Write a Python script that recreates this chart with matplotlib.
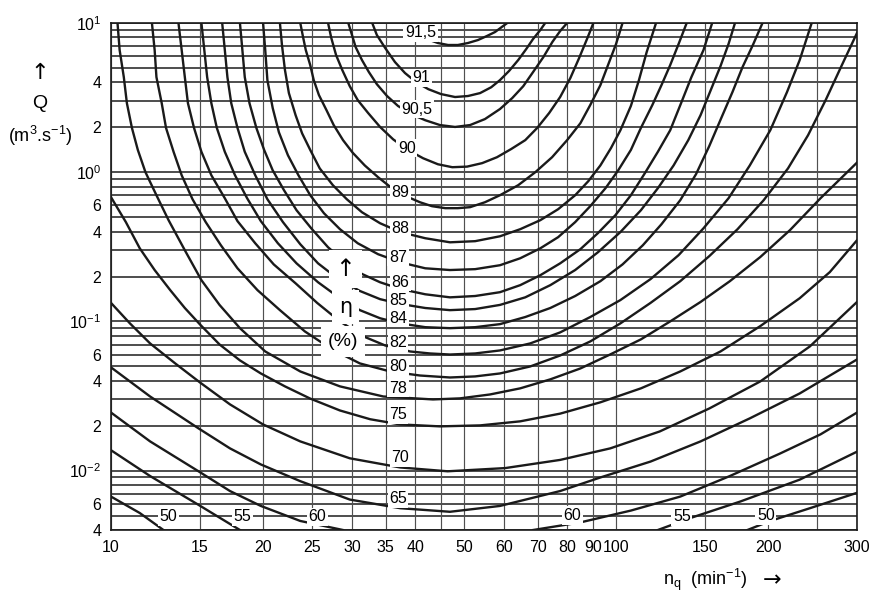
import matplotlib
matplotlib.use('Agg')
import matplotlib.pyplot as plt

plt.rcParams['font.family'] = ['Liberation Sans', 'DejaVu Sans']
plt.rcParams['mathtext.fontset'] = 'custom'
plt.rcParams['mathtext.rm'] = 'Liberation Sans'
plt.rcParams['mathtext.it'] = 'Liberation Sans'

# iso-efficiency lines: nq in 1/min, Q in m3/s
c915_nq = [37.9, 39.3, 40.9, 42.7, 44.4, 46.5, 48.6, 50.9, 53.3, 55.5, 57.6, 59.4, 60.9]
c915_q = [10, 9.12, 8.31, 7.69, 7.34, 7.12, 7.12, 7.34, 7.69, 8.18, 8.70, 9.40, 10]

c91_nq = [32.9, 33.6, 34.9, 36.5, 38.2, 40.2, 42.5, 45.0, 48.0, 50.9, 53.8, 56.6, 58.9,
          61.4, 64.0, 66.4, 68.5, 70.8, 72.4]
c91_q = [10, 8.31, 6.80, 5.47, 4.62, 4.01, 3.60, 3.34, 3.19, 3.24, 3.39, 3.71, 4.14,
         4.77, 5.64, 6.69, 7.81, 8.97, 10]

c905_nq = [29.5, 30.0, 30.5, 31.4, 32.4, 33.6, 35.2, 37.0, 39.3, 41.9, 44.8, 48.0, 51.4,
           55.0, 58.9, 62.3, 65.5, 68.5, 71.8, 74.8, 77.5, 80.0]
c905_q = [10, 8.31, 6.90, 5.64, 4.69, 3.89, 3.24, 2.78, 2.45, 2.23, 2.07, 2.01, 2.07,
          2.27, 2.65, 3.14, 3.77, 4.69, 5.91, 7.46, 8.83, 10]

c90_nq = [26.9, 27.3, 27.9, 28.7, 29.7, 30.8, 32.3, 34.1, 36.2, 38.7, 41.5, 44.4, 47.4,
          50.7, 54.3, 58.1, 62.0, 66.1, 69.8, 73.7, 77.5, 81.2, 84.5, 87.6, 90.2]
c90_q = [10, 7.93, 6.10, 4.84, 3.77, 3.04, 2.49, 2.01, 1.66, 1.41, 1.24, 1.13, 1.08,
         1.09, 1.15, 1.26, 1.43, 1.64, 1.98, 2.49, 3.19, 4.28, 5.82, 7.81, 10]

c89_nq = [23.7, 24.0, 24.3, 24.8, 25.2, 25.8, 26.7, 27.6, 28.8, 30.1, 31.8, 33.8, 36.0,
          38.4, 40.9, 43.2, 45.9, 48.6, 51.4, 55.0, 58.9, 64.0, 69.2, 74.7, 80.0, 85.0,
          88.9, 93.1, 96.4, 100, 103]
c89_q = [10, 8.06, 6.59, 5.22, 4.14, 3.29, 2.61, 2.07, 1.64, 1.35, 1.11, 0.925, 0.781,
         0.690, 0.629, 0.592, 0.574, 0.574, 0.583, 0.629, 0.701, 0.818, 1.0, 1.26, 1.64,
         2.13, 2.82, 3.83, 5.22, 7.23, 10]

c88_nq = [21.6, 21.8, 22.1, 22.5, 23.2, 23.9, 24.8, 25.9, 27.5, 29.3, 31.4, 34.1, 37.4,
          41.9, 46.9, 52.6, 58.9, 64.6, 70.8, 76.8, 83.0, 88.1, 93.1, 97.7, 102, 107,
          111, 115, 120]
c88_q = [10, 7.12, 4.84, 3.39, 2.41, 1.82, 1.41, 1.06, 0.818, 0.659, 0.539, 0.455, 0.397,
         0.361, 0.339, 0.345, 0.372, 0.415, 0.477, 0.565, 0.701, 0.870, 1.11, 1.45, 1.91,
         2.78, 4.14, 6.39, 10]

c87_nq = [20.0, 20.2, 20.4, 20.9, 21.5, 22.4, 23.5, 24.8, 26.4, 28.4, 30.8, 33.8, 37.4,
          41.9, 46.9, 52.6, 58.9, 64.6, 70.8, 76.8, 83.0, 88.9, 95.3, 101, 107, 112,
          118, 123, 128, 133, 138]
c87_q = [10, 6.59, 4.14, 2.69, 1.85, 1.30, 0.954, 0.701, 0.531, 0.415, 0.334, 0.282,
         0.249, 0.227, 0.221, 0.224, 0.238, 0.265, 0.309, 0.367, 0.463, 0.592, 0.781,
         1.03, 1.41, 1.98, 2.82, 3.83, 5.22, 7.23, 10]

c86_nq = [18.0, 18.2, 18.4, 18.8, 19.4, 20.1, 20.9, 22.0, 23.3, 25.0, 26.9, 29.1, 31.4,
          34.1, 37.4, 41.9, 46.9, 52.6, 58.9, 64.6, 70.8, 77.5, 85.0, 92.1, 99.7, 107,
          114, 121, 128, 134.5, 141, 149, 155]
c86_q = [10, 6.59, 4.34, 2.90, 1.98, 1.41, 1.03, 0.758, 0.556, 0.415, 0.314, 0.249, 0.208,
         0.183, 0.165, 0.152, 0.145, 0.148, 0.157, 0.175, 0.204, 0.245, 0.305, 0.391,
         0.515, 0.701, 0.983, 1.37, 1.91, 2.90, 4.34, 6.59, 10]

c85_nq = [16.6, 16.8, 17.0, 17.3, 17.8, 18.4, 19.3, 20.4, 21.9, 23.7, 25.7, 28.2, 31.1,
          34.1, 37.4, 41.9, 46.9, 52.6, 58.9, 66.1, 74.1, 83.0, 92.1, 102, 112, 121, 130,
          139, 147, 154, 161, 167, 172]
c85_q = [10, 6.59, 4.34, 2.90, 1.98, 1.37, 0.954, 0.659, 0.463, 0.329, 0.245, 0.192, 0.160,
         0.141, 0.131, 0.123, 0.119, 0.121, 0.129, 0.145, 0.175, 0.221, 0.291, 0.397,
         0.556, 0.781, 1.11, 1.64, 2.41, 3.55, 5.14, 7.23, 10]

c84_nq = [15.1, 15.3, 15.5, 15.8, 16.2, 16.8, 17.6, 18.6, 19.8, 21.4, 23.3, 25.7, 28.4,
          31.1, 34.1, 37.4, 41.9, 46.9, 52.6, 58.9, 66.1, 74.1, 83.0, 93.1, 103, 113, 123,
          134, 144, 153, 161.5, 170, 178, 187, 195]
c84_q = [10, 6.59, 4.34, 2.90, 1.98, 1.37, 0.954, 0.669, 0.470, 0.334, 0.245, 0.183, 0.143,
         0.119, 0.105, 0.097, 0.0915, 0.0901, 0.0915, 0.0959, 0.107, 0.123, 0.148, 0.186,
         0.241, 0.324, 0.448, 0.649, 0.970, 1.50, 2.30, 3.44, 5.06, 7.23, 10]

c82_nq = [13.6, 13.8, 14.0, 14.2, 14.6, 15.1, 15.8, 16.8, 17.8, 19.3, 21.0, 23.2, 25.6,
          28.4, 31.6, 34.9, 39.1, 42.8, 46.9, 52.6, 58.9, 67.6, 77.5, 88.9, 102, 117, 133,
          149, 167, 184, 202, 218, 231, 244]
c82_q = [10, 6.59, 4.34, 2.90, 1.98, 1.37, 0.954, 0.669, 0.470, 0.334, 0.241, 0.180, 0.133,
         0.100, 0.0794, 0.0690, 0.0629, 0.0610, 0.0600, 0.0610, 0.0639, 0.0712, 0.0844,
         0.107, 0.139, 0.192, 0.278, 0.421, 0.669, 1.11, 1.91, 3.44, 5.64, 10]

c80_nq = [12.05, 12.2, 12.3, 12.6, 12.85, 13.3, 13.8, 14.5, 15.4, 16.5, 17.8, 19.5, 21.6,
          24.2, 27.4, 31.1, 35.7, 40.9, 46.9, 52.6, 58.9, 67.6, 77.5, 88.9, 102, 117, 134,
          153, 174, 196, 219, 240, 260, 280, 300]
c80_q = [10, 6.59, 4.34, 2.90, 1.98, 1.37, 0.954, 0.659, 0.463, 0.324, 0.227, 0.162, 0.119,
         0.0857, 0.0649, 0.0523, 0.0462, 0.0434, 0.0421, 0.0428, 0.0448, 0.0499, 0.0591,
         0.0734, 0.0970, 0.133, 0.186, 0.274, 0.415, 0.649, 1.06, 1.77, 3.04, 5.22, 8.57]

c78_nq = [10.3, 10.4, 10.6, 10.75, 11.0, 11.3, 11.7, 12.3, 13.0, 14.0, 15.1, 16.4, 18.0,
          20.2, 23.7, 28.4, 34.6, 43.4, 49.1, 56.3, 64.6, 74.1, 85.0, 97.4, 112, 128, 147,
          168, 193, 221, 254, 300]
c78_q = [10, 6.59, 4.34, 2.90, 1.98, 1.41, 1.0, 0.701, 0.477, 0.300, 0.189, 0.129, 0.0901,
         0.0629, 0.0462, 0.0367, 0.0314, 0.0300, 0.0305, 0.0324, 0.0356, 0.0409, 0.0484,
         0.0601, 0.0758, 0.100, 0.135, 0.186, 0.270, 0.409, 0.669, 1.16]

c75_nq = [10.0, 10.7, 11.4, 12.2, 13.1, 14.0, 15.0, 16.4, 18.0, 19.8, 22.1, 24.8, 28.4,
          32.6, 37.4, 44.8, 53.8, 64.6, 77.5, 93.1, 112, 134, 161, 193, 231, 265, 300]
c75_q = [0.680, 0.463, 0.309, 0.221, 0.162, 0.123, 0.0955, 0.0701, 0.0548, 0.0448, 0.0367,
         0.0304, 0.0253, 0.0221, 0.0204, 0.0198, 0.0201, 0.0214, 0.0241, 0.0287, 0.0356,
         0.0462, 0.0629, 0.0930, 0.143, 0.214, 0.350]

c70_nq = [10.0, 10.9, 11.95, 13.4, 15.0, 17.2, 20.0, 23.7, 29.7, 37.4, 46.4, 60.3, 77.5,
          97.4, 122, 153, 193, 242, 300]
c70_q = [0.133, 0.097, 0.0712, 0.0523, 0.0390, 0.0278, 0.0204, 0.0157, 0.0121, 0.0105,
         0.0099, 0.0104, 0.0118, 0.0141, 0.0183, 0.0261, 0.0396, 0.0680, 0.135]

c65_nq = [10.0, 11.95, 14.9, 17.2, 19.8, 23.7, 29.7, 37.4, 46.9, 58.9, 77.5, 93.1, 117,
          147, 184, 231, 300]
c65_q = [0.0492, 0.0314, 0.0192, 0.0141, 0.0110, 0.0085, 0.0064, 0.0056, 0.0053, 0.0058,
         0.0073, 0.0090, 0.0115, 0.0157, 0.0224, 0.0329, 0.0556]

c60_nq = [10.0, 11.95, 14.9, 17.2, 19.8, 23.7, 28.8, 68.5, 85.0, 107, 134, 168, 211, 254, 300]
c60_q = [0.0245, 0.0157, 0.0099, 0.0073, 0.0058, 0.0046, 0.004, 0.004, 0.0045, 0.0054,
         0.0067, 0.0092, 0.0130, 0.0175, 0.0245]

c55_nq = [10.0, 11.95, 14.9, 18.0, 121, 140, 176, 231, 300]
c55_q = [0.0137, 0.0092, 0.0059, 0.004, 0.004, 0.0048, 0.0062, 0.0087, 0.0134]

c50_nq = [10.0, 11.4, 12.7, 182, 202, 242, 300]
c50_q = [0.0067, 0.0052, 0.004, 0.004, 0.0046, 0.0056, 0.0071]

# the three lowest lines leave the chart at the bottom: left and right parts
split_at = {60: 7, 55: 4, 50: 3}

contours = [
    (91.5, c915_nq, c915_q), (91, c91_nq, c91_q), (90.5, c905_nq, c905_q),
    (90, c90_nq, c90_q), (89, c89_nq, c89_q), (88, c88_nq, c88_q),
    (87, c87_nq, c87_q), (86, c86_nq, c86_q), (85, c85_nq, c85_q),
    (84, c84_nq, c84_q), (82, c82_nq, c82_q), (80, c80_nq, c80_q),
    (78, c78_nq, c78_q), (75, c75_nq, c75_q), (70, c70_nq, c70_q),
    (65, c65_nq, c65_q), (60, c60_nq, c60_q), (55, c55_nq, c55_q),
    (50, c50_nq, c50_q),
]

# contour labels
lab_text = ['91,5', '91', '90,5', '90', '89', '88', '87', '86', '85', '84', '82', '80',
            '78', '75', '70', '65', '60', '60', '55', '55', '50', '50']
lab_nq = [41.0, 41.1, 40.3, 38.5, 37.4, 37.4, 37.0, 37.4, 37.0, 37.0, 37.0, 37.0,
          37.0, 37.0, 37.4, 37.0, 25.6, 81.9, 18.2, 135, 13.0, 198]
lab_q = [8.6, 4.28, 2.65, 1.45, 0.73, 0.42, 0.27, 0.183, 0.139, 0.105, 0.072, 0.0497,
         0.0356, 0.0237, 0.0122, 0.0065, 0.0049, 0.0050, 0.0049, 0.0049, 0.0049, 0.0050]

# axes ticks and grid
x_ticks = [10, 15, 20, 25, 30, 35, 40, 50, 60, 70, 80, 90, 100, 150, 200, 300]
x_grid = [10, 15, 20, 25, 30, 35, 40, 45, 50, 60, 70, 80, 90, 100, 150, 200, 250, 300]
y_ticks = [10, 4, 2, 1, 0.6, 0.4, 0.2, 0.1, 0.06, 0.04, 0.02, 0.01, 0.006, 0.004]
y_labels = [r'$10^{1}$', '4', '2', r'$10^{0}$', '6', '4', '2', r'$10^{-1}$',
            '6', '4', '2', r'$10^{-2}$', '6', '4']
y_grid = [m * d for d in [0.001, 0.01, 0.1, 1] for m in range(1, 10)] + [10]

fig = plt.figure(figsize=(8.77, 5.97), dpi=100)
ax = fig.add_axes([0.1266, 0.1122, 0.8506, 0.8493])
ax.set_xscale('log')
ax.set_yscale('log')
ax.set_xlim(10, 300)
ax.set_ylim(0.004, 10)

# grid
for g in y_grid:
    if 0.004 <= g <= 10:
        ax.axhline(g, color='#262626', lw=1.15, zorder=1)
for g in x_grid:
    ax.axvline(g, color='#505050', lw=0.85, zorder=1)

# iso-efficiency lines
for eta, nq, q in contours:
    k = split_at.get(eta)
    if k is None:
        ax.plot(nq, q, color='#1a1a1a', lw=1.7, zorder=2)
    else:
        ax.plot(nq[:k], q[:k], color='#1a1a1a', lw=1.7, zorder=2)
        ax.plot(nq[k:], q[k:], color='#1a1a1a', lw=1.7, zorder=2)

for t, x, y in zip(lab_text, lab_nq, lab_q):
    ax.text(x, y, t, fontsize=11.5, ha='center', va='center', zorder=3,
            bbox=dict(facecolor='white', edgecolor='none', pad=1.2))

# efficiency axis label inside the chart
box = dict(facecolor='white', edgecolor='none', pad=5)
ax.text(29.1, 0.225, '\u2191', fontsize=17, ha='center', va='center', zorder=3, bbox=box,
        family='DejaVu Sans')
ax.text(29.1, 0.125, '\u03b7', fontsize=15, ha='center', va='center', zorder=3, bbox=box,
        family='DejaVu Sans')
ax.text(28.8, 0.073, '(%)', fontsize=14, ha='center', va='center', zorder=3, bbox=box)

ax.xaxis.set_minor_locator(plt.NullLocator())
ax.yaxis.set_minor_locator(plt.NullLocator())
ax.set_xticks(x_ticks)
ax.set_xticklabels([str(v) for v in x_ticks], fontsize=11.5)
ax.set_yticks(y_ticks)
ax.set_yticklabels(y_labels, fontsize=11.5)
ax.tick_params(length=0, pad=7)
for s in ax.spines.values():
    s.set_color('#1a1a1a')
    s.set_linewidth(1.2)

fig.text(40 / 877, 1 - 73 / 597, '\u2191', fontsize=16, ha='center', va='center',
         family='DejaVu Sans')
fig.text(40 / 877, 1 - 104 / 597, 'Q', fontsize=14, ha='center', va='center')
fig.text(40 / 877, 1 - 136 / 597, r'(m$^3$.s$^{-1}$)', fontsize=13, ha='center', va='center')
fig.text(705 / 877, 1 - 580 / 597, r'n$_\mathregular{q}$  (min$^{-1}$)',
         fontsize=13, ha='center', va='center')
fig.text(772 / 877, 1 - 580 / 597, '\u2192', fontsize=16, ha='center', va='center',
         family='DejaVu Sans')

fig.savefig('out.png', dpi=100)
